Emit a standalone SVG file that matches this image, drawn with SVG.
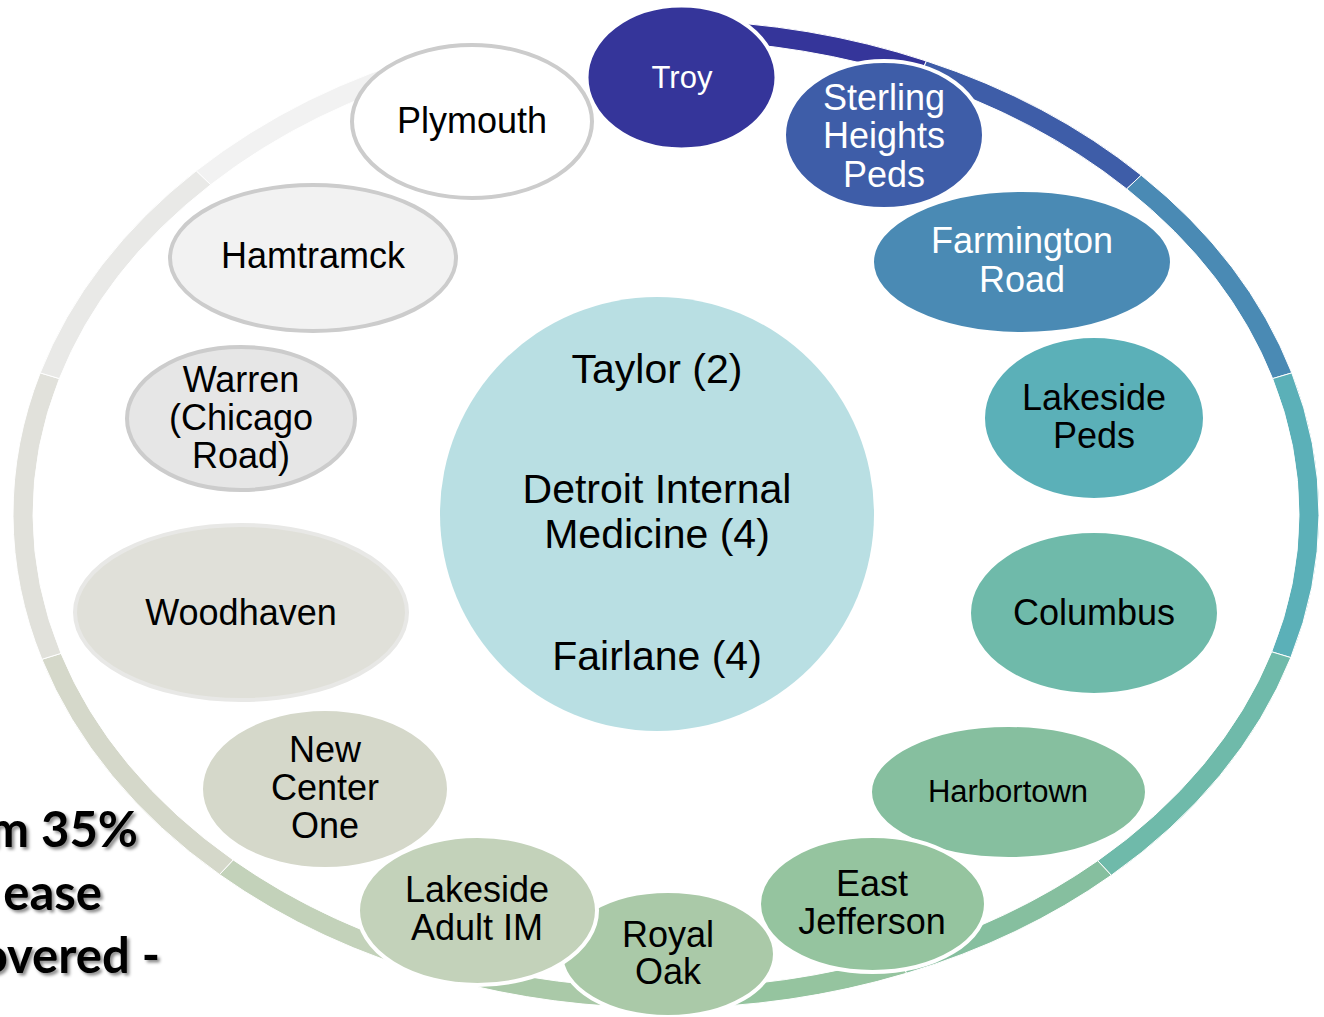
<svg xmlns="http://www.w3.org/2000/svg" width="1324" height="1017" viewBox="0 0 1324 1017">
<style>
.seg{stroke:#ffffff;stroke-width:1}
.n{stroke:#ffffff;stroke-width:4}
.g{stroke:#cccccc;stroke-width:4}
.t{font-family:"Liberation Sans",Arial,sans-serif;font-size:36px;text-anchor:middle;fill:#000000}
.w{fill:#ffffff}
.s31{font-size:31px}
.c{font-size:41px}
.side{font-family:Lato,"Open Sans",sans-serif;font-weight:700;font-size:49px;text-anchor:end;fill:#000000}
</style>
<defs>
<filter id="sh" x="-10%" y="-20%" width="130%" height="150%">
<feDropShadow dx="2.5" dy="2.5" stdDeviation="1.5" flood-color="#000000" flood-opacity="0.45"/>
</filter>
</defs>
<rect width="1324" height="1017" fill="#ffffff"/>
<g id="side-text" filter="url(#sh)">
<text class="side" x="138" y="847">m 35%</text>
<text class="side" x="102" y="910">ease</text>
<text class="side" x="160" y="973">overed -</text>
</g>
<g id="connectors">
<path class="seg" fill="#35359a" d="M684.2,20.2 A653,494 0 0 1 926.4,61.0 L918.4,79.3 A633,474 0 0 0 683.7,40.2 Z"/>
<path class="seg" fill="#3e5da8" d="M926.4,61.0 A653,494 0 0 1 1141.2,175.2 L1126.7,188.9 A633,474 0 0 0 918.4,79.3 Z"/>
<path class="seg" fill="#4a8ab4" d="M1141.2,175.2 A653,494 0 0 1 1291.8,372.9 L1272.6,378.6 A633,474 0 0 0 1126.7,188.9 Z"/>
<path class="seg" fill="#5bb0b8" d="M1291.8,372.9 A653,494 0 0 1 1290.8,657.6 L1271.7,651.8 A633,474 0 0 0 1272.6,378.6 Z"/>
<path class="seg" fill="#6fbaaa" d="M1290.8,657.6 A653,494 0 0 1 1111.3,875.3 L1097.7,860.7 A633,474 0 0 0 1271.7,651.8 Z"/>
<path class="seg" fill="#86bf9f" d="M1111.3,875.3 A653,494 0 0 1 906.4,973.3 L899.0,954.7 A633,474 0 0 0 1097.7,860.7 Z"/>
<path class="seg" fill="#95c49f" d="M906.4,973.3 A653,494 0 0 1 667.1,1008.0 L667.1,988.0 A633,474 0 0 0 899.0,954.7 Z"/>
<path class="seg" fill="#aac9a8" d="M667.1,1008.0 A653,494 0 0 1 444.8,978.8 L451.6,960.0 A633,474 0 0 0 667.1,988.0 Z"/>
<path class="seg" fill="#c3d2ba" d="M444.8,978.8 A653,494 0 0 1 219.5,874.5 L233.2,859.9 A633,474 0 0 0 451.6,960.0 Z"/>
<path class="seg" fill="#d5d8ca" d="M219.5,874.5 A653,494 0 0 1 41.9,659.3 L61.0,653.4 A633,474 0 0 0 233.2,859.9 Z"/>
<path class="seg" fill="#e1e1db" d="M41.9,659.3 A653,494 0 0 1 40.2,372.9 L59.4,378.6 A633,474 0 0 0 61.0,653.4 Z"/>
<path class="seg" fill="#e9e9e7" d="M40.2,372.9 A653,494 0 0 1 196.3,170.8 L210.7,184.7 A633,474 0 0 0 59.4,378.6 Z"/>
<path class="seg" fill="#f2f2f2" d="M196.3,170.8 A653,494 0 0 1 438.4,51.0 L445.4,69.7 A633,474 0 0 0 210.7,184.7 Z"/>
</g>
<g id="center">
<circle cx="657" cy="514" r="217" fill="#b9dfe3"/>
<text class="t c" x="657" y="383">Taylor (2)</text>
<text class="t c" x="657" y="503">Detroit Internal</text>
<text class="t c" x="657" y="548">Medicine (4)</text>
<text class="t c" x="657" y="670">Fairlane (4)</text>
</g>
<g id="troy">
<ellipse class="n" cx="681.5" cy="77.5" rx="95" ry="72" fill="#35359a"/>
<text class="t w s31" x="682" y="88">Troy</text>
</g>
<g id="sterling-heights-peds">
<ellipse class="n" cx="884" cy="135" rx="100" ry="74" fill="#3e5da8"/>
<text class="t w" x="884" y="110">Sterling</text>
<text class="t w" x="884" y="148">Heights</text>
<text class="t w" x="884" y="187">Peds</text>
</g>
<g id="farmington-road">
<ellipse class="n" cx="1022" cy="262" rx="150" ry="72" fill="#4a8ab4"/>
<text class="t w" x="1022" y="253">Farmington</text>
<text class="t w" x="1022" y="292">Road</text>
</g>
<g id="lakeside-peds">
<ellipse class="n" cx="1094" cy="418" rx="111" ry="82" fill="#5bb0b8"/>
<text class="t" x="1094" y="410">Lakeside</text>
<text class="t" x="1094" y="448">Peds</text>
</g>
<g id="columbus">
<ellipse class="n" cx="1094" cy="613" rx="125" ry="82" fill="#6fbaaa"/>
<text class="t" x="1094" y="625">Columbus</text>
</g>
<g id="harbortown">
<ellipse class="n" cx="1008.5" cy="792" rx="138.5" ry="67" fill="#86bf9f"/>
<text class="t s31" x="1008" y="802">Harbortown</text>
</g>
<g id="royal-oak">
<ellipse class="n" cx="668" cy="954" rx="107" ry="63" fill="#aac9a8"/>
<text class="t" x="668" y="947">Royal</text>
<text class="t" x="668" y="984">Oak</text>
</g>
<g id="east-jefferson">
<ellipse class="n" cx="872.5" cy="904" rx="113.5" ry="68" fill="#95c49f"/>
<text class="t" x="872" y="896">East</text>
<text class="t" x="872" y="934">Jefferson</text>
</g>
<g id="lakeside-adult-im">
<ellipse class="n" cx="477.5" cy="910.5" rx="119.5" ry="74.5" fill="#c3d2ba"/>
<text class="t" x="477" y="902">Lakeside</text>
<text class="t" x="477" y="940">Adult IM</text>
</g>
<g id="new-center-one">
<ellipse class="n" cx="325" cy="789" rx="124" ry="80" fill="#d5d8ca"/>
<text class="t" x="325" y="762">New</text>
<text class="t" x="325" y="800">Center</text>
<text class="t" x="325" y="838">One</text>
</g>
<g id="woodhaven">
<ellipse cx="241" cy="612.5" rx="166" ry="87.5" fill="#e0e0d9" stroke="#e8e8e6" stroke-width="4"/>
<text class="t" x="241" y="625">Woodhaven</text>
</g>
<g id="warren">
<ellipse class="g" cx="241" cy="418.5" rx="114" ry="71.5" fill="#e6e6e6"/>
<text class="t" x="241" y="392">Warren</text>
<text class="t" x="241" y="430">(Chicago</text>
<text class="t" x="241" y="468">Road)</text>
</g>
<g id="hamtramck">
<ellipse class="g" cx="313" cy="258" rx="143" ry="73" fill="#f2f2f2"/>
<text class="t" x="313" y="268">Hamtramck</text>
</g>
<g id="plymouth">
<ellipse class="g" cx="472" cy="121.5" rx="120" ry="76.5" fill="#ffffff"/>
<text class="t" x="472" y="133">Plymouth</text>
</g>
</svg>
